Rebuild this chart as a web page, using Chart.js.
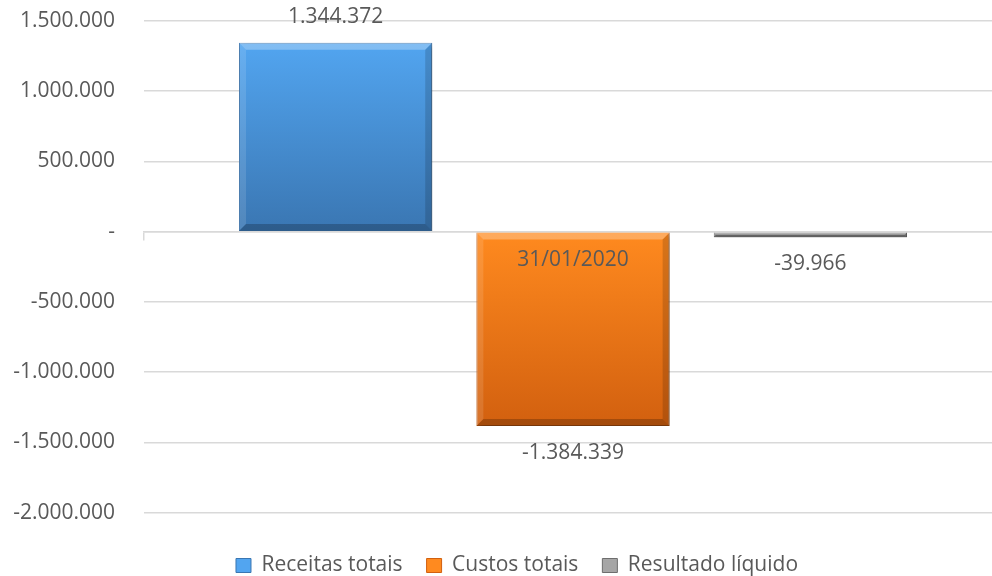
<!DOCTYPE html>
<html>
<head>
<meta charset="utf-8">
<script src="https://cdn.jsdelivr.net/npm/chart.js@4/dist/chart.umd.min.js"></script>
<style>
  html, body { margin: 0; padding: 0; background: #fff; overflow: hidden; }
  #wrap { width: 1002px; height: 576px; position: relative; }
</style>
</head>
<body>
<div id="wrap"><canvas id="ctx"></canvas></div>
<script>
const categories = ['31/01/2020']
const seriesNames = ['Receitas totais', 'Custos totais', 'Resultado líquido']
const receitas = [1344372]
const custos = [-1384339]
const resultado = [-39966]
const yTicks = [-2000000, -1500000, -1000000, -500000, 0, 500000, 1000000, 1500000]

const txtColor = '#595959'
const gridColor = '#d9d9d9'
const fontFamily = '"Open Sans", "Noto Sans", sans-serif'

// light (top) / dark (bottom) shades per series
const shades = [
  ['#52a5f0', '#3a76b2'],
  ['#ff8a1f', '#d2600f'],
  ['#a6a6a6', '#6e6e6e']
]

function fmt(v) {
  if (v === 0) return '-'
  const s = Math.abs(Math.round(v)).toString().replace(/\B(?=(\d{3})+(?!\d))/g, '.')
  return (v < 0 ? '-' : '') + s
}

function barFill(i) {
  return (context) => {
    const chart = context.chart
    const yScale = chart.scales.y
    if (!chart.chartArea || !yScale || context.parsed == null) return shades[i][0]
    const v = context.parsed.y
    const p1 = yScale.getPixelForValue(Math.max(v, 0))
    const p2 = yScale.getPixelForValue(Math.min(v, 0))
    if (!isFinite(p1) || !isFinite(p2) || p1 === p2) return shades[i][0]
    const g = chart.ctx.createLinearGradient(0, p1, 0, p2)
    g.addColorStop(0, shades[i][0])
    g.addColorStop(1, shades[i][1])
    return g
  }
}

const barShadow = {
  id: 'barShadow',
  beforeDatasetsDraw: (chart) => {
    const {ctx} = chart
    ctx.save()
    ctx.shadowColor = 'rgba(0,0,0,0.35)'
    ctx.shadowBlur = 6
    ctx.shadowOffsetX = 2
    ctx.shadowOffsetY = 3
  },
  afterDatasetsDraw: (chart) => {
    chart.ctx.restore()
  }
}

// simple bevel on the bars, like the office chart style
const bevel = {
  id: 'bevel',
  afterDatasetsDraw: (chart) => {
    const {ctx} = chart
    chart.data.datasets.forEach((ds, i) => {
      const meta = chart.getDatasetMeta(i)
      meta.data.forEach((el) => {
        const top = Math.min(el.y, el.base)
        const bottom = Math.max(el.y, el.base)
        const left = el.x - el.width / 2
        const right = el.x + el.width / 2
        const b = Math.min(7, (bottom - top) / 2)
        if (b < 1) return
        ctx.save()
        ctx.fillStyle = 'rgba(255,255,255,0.28)'
        ctx.beginPath()
        ctx.moveTo(left, top); ctx.lineTo(right, top); ctx.lineTo(right - b, top + b); ctx.lineTo(left + b, top + b); ctx.closePath()
        ctx.fill()
        ctx.fillStyle = 'rgba(255,255,255,0.12)'
        ctx.beginPath()
        ctx.moveTo(left, top); ctx.lineTo(left + b, top + b); ctx.lineTo(left + b, bottom - b); ctx.lineTo(left, bottom); ctx.closePath()
        ctx.fill()
        ctx.fillStyle = 'rgba(0,0,0,0.15)'
        ctx.beginPath()
        ctx.moveTo(right, top); ctx.lineTo(right, bottom); ctx.lineTo(right - b, bottom - b); ctx.lineTo(right - b, top + b); ctx.closePath()
        ctx.fill()
        ctx.fillStyle = 'rgba(0,0,0,0.22)'
        ctx.beginPath()
        ctx.moveTo(left, bottom); ctx.lineTo(right, bottom); ctx.lineTo(right - b, bottom - b); ctx.lineTo(left + b, bottom - b); ctx.closePath()
        ctx.fill()
        ctx.restore()
      })
    })
  }
}

const valueLabels = {
  id: 'valueLabels',
  afterDraw: (chart) => {
    const {ctx} = chart
    ctx.save()
    ctx.font = '21px ' + fontFamily
    ctx.fillStyle = txtColor
    ctx.textAlign = 'center'
    ctx.textBaseline = 'middle'
    chart.data.datasets.forEach((ds, i) => {
      const meta = chart.getDatasetMeta(i)
      meta.data.forEach((el, j) => {
        const v = ds.data[j]
        const y = v >= 0 ? el.y - 26 : el.y + 27
        ctx.fillText(fmt(v), el.x, y)
      })
    })
    ctx.restore()
  }
}

// legend sits a bit right of center in the original
const legendShift = {
  id: 'legendShift',
  afterLayout: (chart) => {
    if (!chart.legend) return
    chart.legend.left += 11
    chart.legend.right += 11
  }
}

const seriesData = [receitas, custos, resultado]
const datasets = seriesNames.map((name, i) => ({
  label: name,
  data: seriesData[i],
  backgroundColor: barFill(i),
  borderColor: shades[i][1],
  borderWidth: 1,
  categoryPercentage: 0.83,
  barPercentage: 0.814
}))

const chart = new Chart(document.getElementById('ctx'), {
  type: 'bar',
  data: { labels: categories, datasets: datasets },
  options: {
    responsive: true,
    maintainAspectRatio: false,
    animation: false,
    layout: { padding: { left: 10, right: 0, top: 21, bottom: -10 } },
    scales: {
      x: {
        position: { y: 0 },
        grid: { display: true, drawOnChartArea: false, drawTicks: true, tickLength: 8, color: gridColor, lineWidth: 1.5 },
        border: { display: true, color: gridColor, width: 1.5 },
        ticks: { color: txtColor, font: { size: 21, family: fontFamily }, padding: 8, z: 1 }
      },
      y: {
        min: -2000000,
        max: 1500000,
        afterBuildTicks: (axis) => { axis.ticks = yTicks.map(v => ({ value: v })) },
        afterFit: (axis) => { axis.width = 134 },
        grid: { color: gridColor, lineWidth: 1.5, drawTicks: true, tickLength: 29, tickColor: 'rgba(0,0,0,0)' },
        border: { display: false },
        ticks: { color: txtColor, font: { size: 21, family: fontFamily }, padding: 0, callback: (v) => fmt(v) }
      }
    },
    plugins: {
      legend: {
        position: 'bottom',
        title: { display: true, text: '', padding: 0, font: { size: 14, lineHeight: 1.32 } },
        labels: {
          color: txtColor,
          font: { size: 21, family: fontFamily },
          boxWidth: 15,
          boxHeight: 14,
          padding: 24,
          generateLabels: (chart) => chart.data.datasets.map((ds, i) => ({
            text: ds.label,
            fillStyle: shades[i][0],
            strokeStyle: shades[i][1],
            lineWidth: 1,
            fontColor: txtColor,
            datasetIndex: i
          }))
        }
      },
      tooltip: { enabled: false }
    }
  },
  plugins: [barShadow, bevel, valueLabels, legendShift]
})
</script>
</body>
</html>
